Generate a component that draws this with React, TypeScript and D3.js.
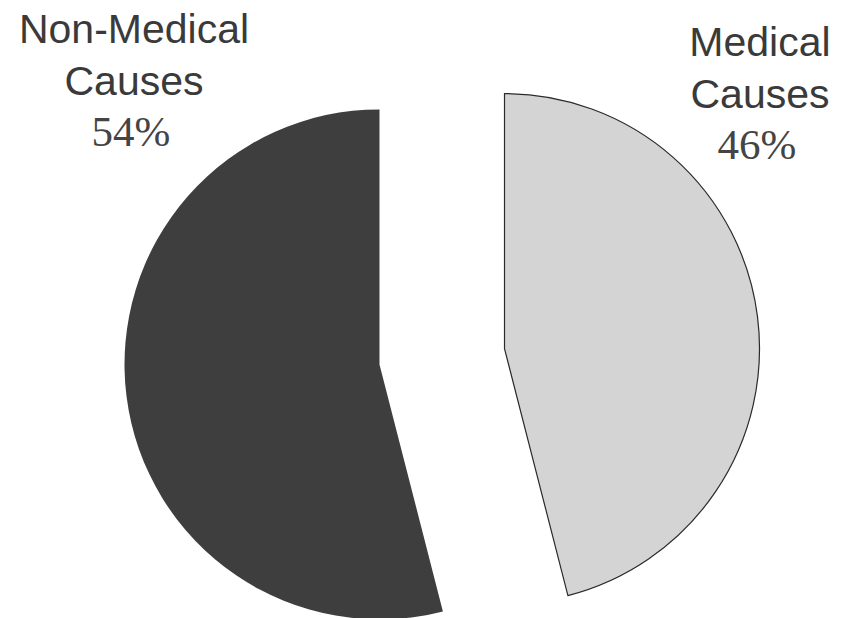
import React from "react";
import * as d3 from "d3";

const categories = ["Medical Causes", "Non-Medical Causes"];
const labelLine1 = ["Medical", "Non-Medical"];
const labelLine2 = ["Causes", "Causes"];
const values = [46, 54];
const percentLabels = ["46%", "54%"];
const fills = ["#d4d4d4", "#3e3e3e"];
const strokes = ["#2a2a2a", "none"];

const W = 843;
const H = 618;
const cx = 442;
const cy = 356.5;
const radius = 255;
const explode = 63;
const labelPos = [
  { x: 760, y: 56 },
  { x: 134, y: 43 },
];

export default function App() {
  const pie = d3
    .pie<number>()
    .sort(null)
    .startAngle(0)
    .endAngle(2 * Math.PI);
  const arcs = pie(values);
  const arcGen = d3.arc<d3.PieArcDatum<number>>().innerRadius(0).outerRadius(radius);

  return (
    <svg
      width={W}
      height={H}
      style={{ position: "absolute", left: 0, top: 0, background: "#fff" }}
    >
      <g transform={`translate(${cx},${cy})`}>
        {arcs.map((a, i) => {
          const mid = (a.startAngle + a.endAngle) / 2;
          const dx = Math.sin(mid) * explode;
          const dy = -Math.cos(mid) * explode;
          return (
            <path
              key={categories[i]}
              d={arcGen(a) || ""}
              transform={`translate(${dx},${dy})`}
              fill={fills[i]}
              stroke={strokes[i]}
              strokeWidth={1.2}
            />
          );
        })}
      </g>
      {categories.map((c, i) => (
        <g key={c} fill="#3a3a3a">
          <text
            x={labelPos[i].x}
            y={labelPos[i].y}
            textAnchor="middle"
            fontFamily="Liberation Sans"
            fontSize={41}
          >
            {labelLine1[i]}
          </text>
          <text
            x={labelPos[i].x}
            y={labelPos[i].y + 52}
            textAnchor="middle"
            fontFamily="Liberation Sans"
            fontSize={41}
          >
            {labelLine2[i]}
          </text>
          <text
            x={labelPos[i].x - 3}
            y={labelPos[i].y + 103}
            textAnchor="middle"
            fontFamily="Liberation Serif"
            fontSize={43}
            fill="#444"
          >
            {percentLabels[i]}
          </text>
        </g>
      ))}
    </svg>
  );
}
